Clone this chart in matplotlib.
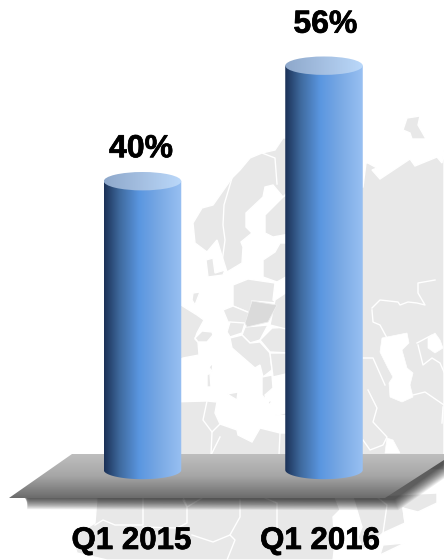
import numpy as np
import matplotlib.pyplot as plt
import matplotlib.patheffects as pe
from matplotlib.colors import LinearSegmentedColormap
from matplotlib.patches import Polygon, Ellipse

plt.rcParams["font.family"] = ["Liberation Sans", "DejaVu Sans"]

quarters = ["Q1 2015", "Q1 2016"]
shares = [40, 56]
share_labels = ["40%", "56%"]

LAND = "#e8e8e8"
LAND_DARK = "#dadada"

# backdrop map, outlines in pixel space
land = [
    # Scandinavia
    [(283,138),(275,150),(262,153),(250,158),(240,170),(232,178),(213,205),(202,208),(193,223),(195,243),
     (207,252),(217,240),(227,272),(242,263),(243,247),(241,242),(252,233),(246,227),(246,213),(263,197),
     (265,187),(273,185),(283,197),(290,190),(290,138)],
    # Finland
    [(283,197),(265,215),(265,233),(273,237),(295,233),(295,190)],
    # Baltics
    [(263,260),(275,252),(280,243),(295,243),(295,272),(277,282),(263,277)],
    # Denmark
    [(206,260),(213,258),(215,273),(225,270),(223,275),(208,277)],
    [(193,293),(200,292),(195,305),(192,300)],
    # Poland, Germany and neighbours
    [(233,285),(248,279),(275,283),(273,300),(277,303),(252,301),(250,313),(233,306)],
    [(223,310),(233,306),(250,313),(245,325),(228,322)],
    [(230,322),(245,323),(242,333),(230,337),(227,332)],
    [(245,327),(268,325),(260,340),(250,343),(242,335)],
    [(272,328),(290,327),(290,353),(270,352),(260,340)],
    [(275,300),(290,290),(290,330),(270,325)],
    # France and the low countries
    [(181,305),(197,315),(204,320),(197,333),(195,339),(198,342),(199,355),(183,358),(170,365),(170,305)],
    [(195,338),(202,331),(212,332),(213,335),(207,342),(198,342)],
    # Balkans, Greece, Turkey
    [(230,338),(242,335),(250,343),(260,342),(270,353),(272,370),(263,377),(260,365),(255,368),(240,355),(232,348)],
    [(262,377),(272,375),(273,388),(265,395),(267,402),(272,400),(270,405),(262,395)],
    [(270,353),(290,353),(290,373),(273,377)],
    # islands
    [(207,375),(210,373),(211,387),(207,387)],
    [(209,367),(213,363),(212,372)],
    [(227,394),(238,392),(237,400)],
    [(275,415),(290,412),(290,416)],
    [(403,130),(407,118),(420,116),(418,125),(426,139),(412,139),(410,133)],
    # north Africa
    [(170,402),(207,401),(217,402),(215,413),(220,424),(237,430),(238,435),(252,442),(260,428),(280,433),
     (295,433),(295,470),(170,470)],
    # Russia and central Asia
    [(350,190),(363,187),(366,163),(368,163),(377,168),(372,170),(380,179),(410,159),(415,166),(437,157),
     (442,163),(444,150),(444,470),(350,470)],
    # Africa under the platform
    [(97,497),(95,523),(72,537),(77,553),(107,560),(333,560),(335,543),(333,517),(340,510),(335,497)],
    # Arabia
    [(353,497),(437,493),(437,503),(418,512),(403,508),(405,523),(383,533),(363,550),(358,537),(362,527)],
    [(383,545),(405,543),(380,555)],
]

central = [(252,301),(277,305),(268,322),(247,327),(245,323)]

seas = [
    [(382,338),(407,333),(409,343),(402,350),(407,368),(413,373),(410,385),(413,397),(402,402),(390,397),
     (389,383),(393,377),(388,368),(380,352)],
    [(428,338),(435,333),(440,340),(443,348),(435,353),(428,348)],
    [(387,438),(393,440),(400,453),(385,453)],
]

borders = [
    [(262,153),(275,158),(277,184)],
    [(232,178),(224,205),(223,225),(225,240),(221,270)],
    [(372,308),(380,300),(398,302),(400,305),(408,302),(417,303),(425,305),(418,293),(418,283),(435,280)],
    [(372,310),(373,322),(380,325),(387,338)],
    [(417,343),(432,335)],
    [(418,345),(423,365),(432,358),(440,363),(444,372)],
    [(413,395),(425,392),(444,405)],
    [(363,358),(373,358),(385,385)],
    [(368,390),(377,408),(373,422),(387,437),(383,445),(370,450),(363,440)],
    [(443,407),(442,423)],
    [(143,497),(143,525),(115,525),(103,520),(95,525)],
    [(183,497),(187,507),(187,523),(177,528),(143,527)],
    [(183,500),(187,507),(202,498)],
    [(240,500),(240,517),(230,535),(213,542),(192,535)],
    [(230,535),(235,540),(227,560)],
    [(265,498),(277,503),(277,533)],
    [(377,497),(387,505),(383,533)],
    [(403,508),(405,523)],
    [(207,401),(203,420),(212,432),(211,455)],
    [(212,432),(220,424)],
    [(211,455),(220,437)],
    [(280,433),(279,455)],
]

fig = plt.figure(figsize=(4.44, 5.6), dpi=100)

# pixel-space layer: map, platform, labels
bg = fig.add_axes([0, 0, 1, 1])
bg.set_xlim(0, 444)
bg.set_ylim(560, 0)
bg.axis("off")

for outline in land:
    bg.add_patch(Polygon(outline, closed=True, fc=LAND, ec="white", lw=1.0, zorder=1))
bg.add_patch(Polygon(central, closed=True, fc=LAND_DARK, ec="#eeeeee", lw=0.6, zorder=1.2))
for outline in seas:
    bg.add_patch(Polygon(outline, closed=True, fc="white", ec="white", lw=0.5, zorder=1.4))
for line in borders:
    xs, ys = zip(*line)
    bg.plot(xs, ys, color="white", lw=1.0, zorder=1.5)

# soft shadow under the platform
for i in range(14):
    grow = 14 - i
    shadow = [(20 + grow * 0.5, 496), (385, 496), (444, 458), (444, 463 + grow * 1.1),
              (394 + grow * 0.3, 499 + grow * 0.8), (30 - grow * 0.2, 498 + grow * 0.8)]
    bg.add_patch(Polygon(shadow, closed=True, fc="black", ec="none", alpha=0.065, zorder=2))

# grey platform with a vertical gradient
platform_cmap = LinearSegmentedColormap.from_list("platform", ["#bebebe", "#a6a6a6", "#6c6c6c"])
platform = Polygon([(72, 454), (444, 454), (444, 460), (385, 498), (9, 498)], closed=True,
                   fc="none", ec="none", zorder=3)
bg.add_patch(platform)
im = bg.imshow(np.linspace(0, 1, 64)[:, None], extent=(0, 444, 498, 454), aspect="auto",
               cmap=platform_cmap, zorder=3)
im.set_clip_path(platform)
bg.set_xlim(0, 444)
bg.set_ylim(560, 0)

heavy = [pe.withStroke(linewidth=0.5, foreground="black")]
bg.text(131.5, 541, quarters[0], ha="center", va="center", fontsize=22.5, fontweight="bold",
        color="black", path_effects=heavy)
bg.text(320, 541, quarters[1], ha="center", va="center", fontsize=22.5, fontweight="bold",
        color="black", path_effects=heavy)

# cylinders on their own value scale, 0 sits on the platform
ax = fig.add_axes([0, 0, 1, 1])
ax.patch.set_alpha(0)
ax.axis("off")
x_step = 181.5
y_step = 7.22
xlim = (-142.5 / x_step, (444 - 142.5) / x_step)
ylim = ((470 - 560) / y_step, 470 / y_step)

body_cmap = LinearSegmentedColormap.from_list(
    "body", [(0, "#1b3157"), (0.2, "#3f6a9e"), (0.45, "#5a96e0"), (0.7, "#78a8e4"), (1, "#98c0f2")])
cap_cmap = LinearSegmentedColormap.from_list("cap", ["#8ea8cb", "#a5c0e2", "#bad8fa"])
ramp = np.linspace(0, 1, 128)[None, :]

bars = ax.bar(range(len(shares)), shares, width=77.5 / x_step, color="none")
cap_h = 2 * 9.2 / y_step
label_shift = [(-1, 23), (1, 29.5)]
angles = np.linspace(np.pi, 2 * np.pi, 60)
for bar, label, shift in zip(bars, share_labels, label_shift):
    width = bar.get_width()
    left = bar.get_x()
    right = left + width
    mid = left + width / 2
    top = bar.get_height()

    # straight sides with a rounded foot
    foot_x = mid + width / 2 * np.cos(angles)
    foot_y = cap_h / 2 * np.sin(angles)
    outline = [(left, top)] + list(zip(foot_x, foot_y)) + [(right, top)]
    body = Polygon(outline, closed=True, fc="none", ec="none")
    ax.add_patch(body)
    img = ax.imshow(ramp, extent=(left, right, -cap_h, top), aspect="auto", cmap=body_cmap, zorder=4)
    img.set_clip_path(body)

    # lighter top of the cylinder
    cap = Ellipse((mid, top), width, cap_h, fc="none", ec="none")
    ax.add_patch(cap)
    img = ax.imshow(ramp, extent=(left, right, top - cap_h, top + cap_h), aspect="auto", cmap=cap_cmap, zorder=5)
    img.set_clip_path(cap)

    ax.annotate(label, (mid, top), xytext=shift, textcoords="offset points", ha="center", va="center",
                fontsize=23, fontweight="bold", color="black", zorder=6, path_effects=heavy)

ax.set_xlim(*xlim)
ax.set_ylim(*ylim)

fig.savefig("out.png", dpi=100)
